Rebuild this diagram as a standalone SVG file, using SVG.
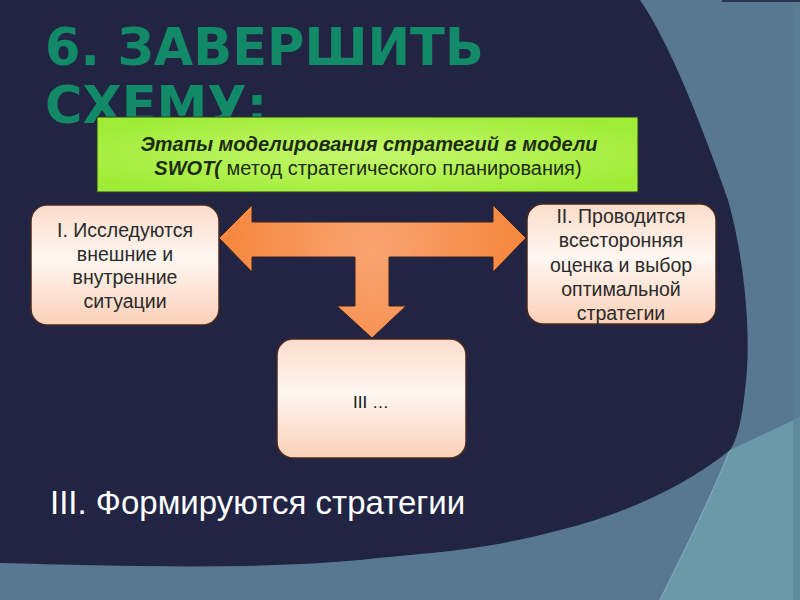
<svg xmlns="http://www.w3.org/2000/svg" width="800" height="600" viewBox="0 0 800 600">
  <style>
    .title { font-family: "DejaVu Sans", "Liberation Sans", sans-serif; font-weight: bold; font-size: 51px; fill: #128a67; }
    .hdr { font-family: "Liberation Sans", Arial, sans-serif; font-size: 20px; fill: #1c2c12; text-anchor: middle; }
    .bi { font-weight: bold; font-style: italic; }
    .box { stroke: #4a2a1f; stroke-width: 1.5; fill: url(#peach); }
    .bt { font-family: "Liberation Sans", Arial, sans-serif; font-size: 19.5px; fill: #2a2a2a; text-anchor: middle; }
    .cap { font-family: "Liberation Sans", Arial, sans-serif; font-size: 33px; fill: #ffffff; }
  </style>
  <defs>
    <linearGradient id="peach" x1="0" y1="0" x2="0" y2="1">
      <stop offset="0" stop-color="#fcdccb"/>
      <stop offset="0.45" stop-color="#fff7f2"/>
      <stop offset="1" stop-color="#fbd0b8"/>
    </linearGradient>
    <radialGradient id="lime" cx="0.5" cy="0.5" r="0.6">
      <stop offset="0" stop-color="#c6f76e"/>
      <stop offset="1" stop-color="#9fec36"/>
    </radialGradient>
    <radialGradient id="orange" gradientUnits="userSpaceOnUse" cx="372" cy="250" r="160">
      <stop offset="0" stop-color="#f9a472"/>
      <stop offset="1" stop-color="#f5853a"/>
    </radialGradient>
  </defs>

  <!-- background -->
  <rect x="0" y="0" width="800" height="600" fill="#577890"/>
  <path d="M730,450 L800,417 L800,600 L660,600 C690,540 712,495 730,450 Z" fill="#6a99ab"/>
  <path d="M730,450 C712,495 690,540 660,600" fill="none" stroke="#80aabb" stroke-width="1.2"/>
  <rect x="793" y="0" width="7" height="600" fill="#5b7e95" opacity="0.6"/>
  <rect x="722" y="0" width="78" height="2" fill="#2a3550"/>
  <path d="M0,0 L640,0 C668,40 700,120 728,200 C745,260 752,340 745,390 C742,420 737,440 730,450 C680,490 620,515 560,530 C480,552 420,553 360,560 C250,570 120,566 0,563 Z" fill="#222443"/>

  <!-- title -->
  <g id="title">
    <text class="title" x="45" y="65">6. ЗАВЕРШИТЬ</text>
    <text class="title" x="45" y="123">СХЕМУ:</text>
  </g>

  <!-- header box -->
  <g id="header">
    <rect x="97" y="117" width="541" height="75" fill="url(#lime)" stroke="#2c3a1e" stroke-width="1"/>
    <text class="hdr bi" x="369" y="151">Этапы моделирования стратегий в модели</text>
    <text class="hdr" x="368" y="175"><tspan class="bi">SWOT(</tspan> метод стратегического планирования)</text>
  </g>

  <!-- connectors -->
  <g id="connectors">
    <path d="M219,238 L252,205 L252,222 L493,222 L493,205 L526,238 L493,272 L493,257 L389,257 L389,306 L406,306 L372,338 L337,306 L355,306 L355,257 L252,257 L252,272 Z" fill="url(#orange)" stroke="#3a2320" stroke-width="1"/>
  </g>

  <!-- node I -->
  <g id="node-1">
    <rect class="box" x="31" y="205" width="188" height="120" rx="16" ry="16"/>
    <text class="bt" x="125" y="237">I. Исследуются</text>
    <text class="bt" x="125" y="261">внешние и</text>
    <text class="bt" x="125" y="284">внутренние</text>
    <text class="bt" x="125" y="308">ситуации</text>
  </g>

  <!-- node II -->
  <g id="node-2">
    <rect class="box" x="527" y="204" width="189" height="120" rx="16" ry="16"/>
    <text class="bt" x="621" y="223">II. Проводится</text>
    <text class="bt" x="621" y="247">всесторонняя</text>
    <text class="bt" x="621" y="272">оценка и выбор</text>
    <text class="bt" x="621" y="296">оптимальной</text>
    <text class="bt" x="621" y="320">стратегии</text>
  </g>

  <!-- node III -->
  <g id="node-3">
    <rect class="box" x="277" y="339" width="189" height="119" rx="16" ry="16"/>
    <text class="bt" x="371" y="408" style="font-size:17px;fill:#111">III …</text>
  </g>

  <!-- caption -->
  <g id="caption">
    <text class="cap" x="50" y="514">III. Формируются стратегии</text>
  </g>
</svg>
